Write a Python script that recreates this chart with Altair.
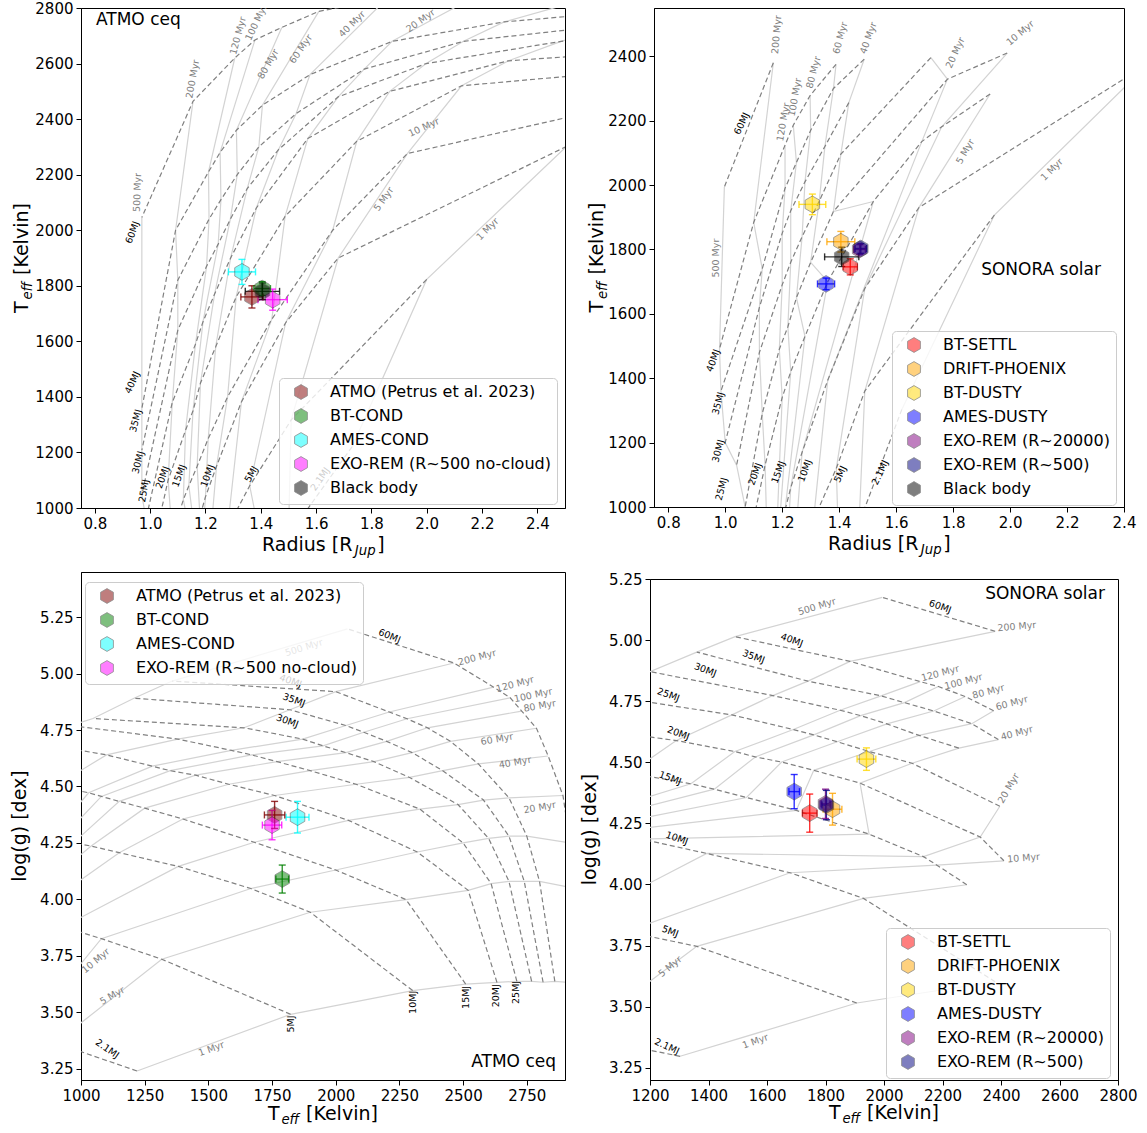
import altair as alt
import pandas as pd

# ---------------------------------------------------------------- grid axes
AGES = [1, 5, 10, 20, 40, 60, 80, 100, 120, 200, 500]
MASSES = [2.1, 5, 10, 15, 20, 25, 30, 35, 40, 60]
N = None

# ---------------------------------------------------------------- ATMO ceq grid
ATMO_TEFF = {
    2.1: [1220, 900, 780, 660, 570, 520, 490, 465, 445, 400, 330],
    5: [1823, 1317, 1080, 930, 800, 735, 690, 660, 635, 565, 455],
    10: [2302, 1900, 1667, 1382, 1150, 1040, 970, 920, 880, 780, 620],
    15: [2510, 2276, 2000, 1680, 1400, 1250, 1150, 1080, 1030, 900, 720],
    20: [2633, 2520, 2320, 2050, 1760, 1580, 1450, 1350, 1280, 1100, 840],
    25: [2711, 2610, 2500, 2330, 2080, 1900, 1770, 1670, 1590, 1380, 960],
    30: [2769, 2680, 2600, 2480, 2290, 2150, 2040, 1950, 1870, 1640, 1047],
    35: [2814, 2740, 2680, 2580, 2420, 2300, 2200, 2110, 2040, 1820, 1208],
    40: [2860, 2800, 2750, 2680, 2560, 2450, 2360, 2280, 2210, 2000, 1358],
    60: [2950, 2935, 2920, 2892, 2834, 2788, 2730, 2685, 2620, 2464, 2046],
}
ATMO_RADIUS = {
    2.1: [1.73, 1.50, 1.42, 1.35, 1.28, 1.25, 1.23, 1.21, 1.20, 1.17, 1.12],
    5: [2.00, 1.51, 1.36, 1.28, 1.21, 1.18, 1.16, 1.15, 1.14, 1.12, 1.08],
    10: [2.506, 1.68, 1.49, 1.33, 1.24, 1.20, 1.18, 1.16, 1.15, 1.12, 1.07],
    15: [2.97, 1.93, 1.66, 1.44, 1.28, 1.21, 1.17, 1.14, 1.12, 1.08, 1.03],
    20: [3.40, 2.126, 1.747, 1.488, 1.311, 1.237, 1.182, 1.155, 1.128, 1.065, 1.006],
    25: [3.78, 2.296, 1.866, 1.57, 1.384, 1.291, 1.233, 1.191, 1.164, 1.08, 0.985],
    30: [4.14, 2.486, 1.998, 1.68, 1.464, 1.351, 1.29, 1.246, 1.204, 1.10, 0.97],
    35: [4.49, 2.685, 2.133, 1.774, 1.528, 1.393, 1.315, 1.256, 1.213, 1.10, 0.97],
    40: [4.78, 2.87, 2.28, 1.875, 1.578, 1.406, 1.312, 1.253, 1.211, 1.092, 0.97],
    60: [5.90, 3.64, 2.89, 2.27, 1.856, 1.61, 1.476, 1.379, 1.306, 1.155, 0.97],
}
ATMO_LOGG = {
    2.1: [3.240, 3.364, 3.411, 3.455, 3.502, 3.522, 3.536, 3.550, 3.558, 3.580, 3.618],
    5: [3.491, 3.735, 3.826, 3.879, 3.927, 3.949, 3.964, 3.972, 3.979, 3.995, 4.026],
    10: [3.596, 3.943, 4.048, 4.146, 4.207, 4.236, 4.250, 4.265, 4.273, 4.296, 4.335],
    15: [3.625, 3.999, 4.130, 4.253, 4.356, 4.404, 4.434, 4.456, 4.472, 4.503, 4.544],
    20: [3.632, 4.040, 4.210, 4.350, 4.460, 4.510, 4.550, 4.570, 4.590, 4.640, 4.690],
    25: [3.637, 4.070, 4.250, 4.400, 4.510, 4.570, 4.610, 4.640, 4.660, 4.710, 4.770],
    30: [3.637, 4.080, 4.270, 4.420, 4.540, 4.610, 4.650, 4.680, 4.710, 4.760, 4.801],
    35: [3.633, 4.080, 4.280, 4.440, 4.570, 4.650, 4.700, 4.740, 4.770, 4.840, 4.891],
    40: [3.637, 4.080, 4.280, 4.450, 4.600, 4.700, 4.760, 4.800, 4.830, 4.920, 4.967],
    60: [3.630, 4.050, 4.250, 4.460, 4.635, 4.758, 4.834, 4.893, 4.940, 5.047, 5.198],
}

# ---------------------------------------------------------------- SONORA solar grid
SONORA_TEFF = {
    2.1: [1303, 950, 820, 700, 600, 550, 515, 490, 470, 420, 350],
    5: [1907, 1360, 1120, 960, 830, 760, 715, 680, 650, 580, 470],
    10: [2380, 1930, 1679, 1394, 1170, 1060, 990, 940, 900, 800, 640],
    15: [N, 2283, 2181, 2135, 1949, 1700, 1530, 1420, 1340, 1130, 880],
    20: [N, N, 2410, 2329, 1918, 1760, 1650, 1560, 1490, 1290, 1000],
    25: [N, N, N, 2396, 2096, 1950, 1840, 1760, 1690, 1480, 1130],
    30: [N, N, N, N, 2256, 2120, 2010, 1920, 1850, 1620, 1200],
    35: [N, N, N, N, 2391, 2300, 2170, 2070, 1990, 1740, 1360],
    40: [N, N, N, N, N, 2375, 2278, 2186, 2124, 1884, 1491],
    60: [N, N, N, N, N, N, N, N, N, 2380, 1994],
}
SONORA_RADIUS = {
    2.1: [1.62, 1.47, 1.40, 1.34, 1.28, 1.25, 1.23, 1.22, 1.21, 1.18, 1.13],
    5: [1.945, 1.49, 1.39, 1.31, 1.24, 1.21, 1.19, 1.17, 1.16, 1.13, 1.09],
    10: [2.49, 1.68, 1.49, 1.36, 1.27, 1.23, 1.21, 1.19, 1.18, 1.15, 1.10],
    15: [N, 1.93, 1.76, 1.69, 1.52, 1.36, 1.28, 1.23, 1.20, 1.14, 1.08],
    20: [N, N, 1.99, 1.78, 1.38, 1.30, 1.25, 1.22, 1.19, 1.13, 1.07],
    25: [N, N, N, 1.722, 1.406, 1.33, 1.27, 1.23, 1.20, 1.12, 1.04],
    30: [N, N, N, N, 1.434, 1.35, 1.28, 1.23, 1.20, 1.12, 1.00],
    35: [N, N, N, N, 1.488, 1.38, 1.30, 1.25, 1.21, 1.13, 0.985],
    40: [N, N, N, N, N, 1.389, 1.298, 1.239, 1.21, 1.10, 0.98],
    60: [N, N, N, N, N, N, N, N, N, 1.169, 0.997],
}
SONORA_LOGG = {
    2.1: [3.297, 3.381, 3.424, 3.462, 3.502, 3.522, 3.536, 3.543, 3.550, 3.572, 3.610],
    5: [3.515, 3.747, 3.807, 3.858, 3.906, 3.927, 3.942, 3.957, 3.964, 3.987, 4.018],
    10: [3.602, 3.943, 4.048, 4.127, 4.186, 4.214, 4.228, 4.243, 4.250, 4.273, 4.311],
    15: [N, 3.999, 4.079, 4.114, 4.206, 4.303, 4.356, 4.390, 4.412, 4.456, 4.503],
    20: [N, N, 4.097, 4.194, 4.415, 4.467, 4.501, 4.522, 4.544, 4.589, 4.636],
    25: [N, N, N, 4.320, 4.496, 4.544, 4.584, 4.612, 4.634, 4.694, 4.758],
    30: [N, N, N, N, 4.558, 4.610, 4.657, 4.691, 4.713, 4.773, 4.871],
    35: [N, N, N, N, 4.593, 4.658, 4.710, 4.744, 4.772, 4.832, 4.951],
    40: [N, N, N, N, N, 4.711, 4.769, 4.810, 4.830, 4.913, 5.014],
    60: [N, N, N, N, N, N, N, N, N, 5.036, 5.175],
}

# ---------------------------------------------------------------- track labels (text, x, y, angle)
ATMO_RT_AGE_LABELS = [
    ("500 Myr", 0.954, 2136, 272), ("200 Myr", 1.154, 2544, 280), ("120 Myr", 1.318, 2700, 285),
    ("100 Myr", 1.384, 2748, 295), ("80 Myr", 1.427, 2598, 300), ("60 Myr", 1.545, 2652, 305),
    ("40 Myr", 1.73, 2742, 315), ("20 Myr", 1.978, 2754, 325), ("10 Myr", 1.99, 2370, 335),
    ("5 Myr", 1.845, 2112, 305), ("1 Myr", 2.22, 2004, 315),
]
ATMO_RT_MASS_LABELS = [
    ("60MJ", 0.936, 1992, 290), ("40MJ", 0.936, 1452, 295), ("35MJ", 0.948, 1314, 285),
    ("30MJ", 0.957, 1164, 285), ("25MJ", 0.978, 1062, 280), ("20MJ", 1.045, 1110, 290),
    ("15MJ", 1.105, 1116, 290), ("10MJ", 1.208, 1116, 290), ("5MJ", 1.366, 1122, 300),
    ("2.1MJ", 1.615, 1104, 305),
]
SONORA_RT_AGE_LABELS = [
    ("500 Myr", 0.969, 1773, 270), ("200 Myr", 1.181, 2467, 275), ("120 Myr", 1.204, 2196, 280),
    ("100 Myr", 1.245, 2273, 280), ("80 Myr", 1.31, 2350, 285), ("60 Myr", 1.404, 2457, 285),
    ("40 Myr", 1.503, 2457, 290), ("20 Myr", 1.808, 2411, 295), ("10 Myr", 2.036, 2472, 320),
    ("5 Myr", 1.843, 2104, 300), ("1 Myr", 2.147, 2048, 315),
]
SONORA_RT_MASS_LABELS = [
    ("60MJ", 1.058, 2191, 295), ("40MJ", 0.958, 1455, 290), ("35MJ", 0.976, 1322, 285),
    ("30MJ", 0.976, 1174, 285), ("25MJ", 0.987, 1056, 285), ("20MJ", 1.105, 1102, 290),
    ("15MJ", 1.187, 1108, 290), ("10MJ", 1.28, 1113, 290), ("5MJ", 1.404, 1102, 295),
    ("2.1MJ", 1.544, 1107, 295),
]
ATMO_TG_AGE_LABELS = [
    ("500 Myr", 1875, 5.115, 343), ("200 Myr", 2555, 5.071, 345), ("120 Myr", 2704, 4.953, 345),
    ("100 Myr", 2775, 4.904, 348), ("80 Myr", 2801, 4.857, 350), ("60 Myr", 2633, 4.709, 350),
    ("40 Myr", 2704, 4.606, 350), ("20 Myr", 2801, 4.407, 350), ("10 Myr", 1058, 3.728, 320),
    ("5 Myr", 1123, 3.573, 330), ("1 Myr", 1512, 3.338, 340),
]
ATMO_TG_MASS_LABELS = [
    ("60MJ", 2211, 5.166, 22), ("40MJ", 1823, 4.967, 20), ("35MJ", 1836, 4.883, 20),
    ("30MJ", 1810, 4.79, 20), ("2.1MJ", 1103, 3.338, 35), ("5MJ", 1823, 3.448, 270),
    ("10MJ", 2302, 3.544, 270), ("15MJ", 2510, 3.566, 270), ("20MJ", 2629, 3.573, 270),
    ("25MJ", 2707, 3.588, 270),
]
SONORA_TG_AGE_LABELS = [
    ("500 Myr", 1771, 5.137, 343), ("200 Myr", 2454, 5.055, 355), ("120 Myr", 2192, 4.864, 345),
    ("100 Myr", 2272, 4.83, 345), ("80 Myr", 2357, 4.789, 345), ("60 Myr", 2437, 4.742, 345),
    ("40 Myr", 2454, 4.619, 345), ("20 Myr", 2426, 4.394, 300), ("10 Myr", 2477, 4.108, 355),
    ("5 Myr", 1269, 3.664, 320), ("1 Myr", 1560, 3.358, 340),
]
SONORA_TG_MASS_LABELS = [
    ("60MJ", 2192, 5.137, 20), ("40MJ", 1685, 5.0, 20), ("35MJ", 1554, 4.932, 20),
    ("30MJ", 1389, 4.878, 20), ("25MJ", 1263, 4.776, 20), ("20MJ", 1297, 4.619, 20),
    ("15MJ", 1269, 4.435, 20), ("10MJ", 1292, 4.189, 20), ("5MJ", 1269, 3.808, 20),
    ("2.1MJ", 1258, 3.337, 25),
]

# ---------------------------------------------------------------- fitted atmospheric parameters
ATMO_MODELS = ["ATMO (Petrus et al. 2023)", "BT-COND", "AMES-COND", "EXO-REM (R~500 no-cloud)", "Black body"]
ATMO_COLORS = ["#800000", "#008000", "#00ffff", "#ff00ff", "#000000"]
ATMO_OBS_TEFF = [1760, 1790, 1850, 1750, 1780]
ATMO_OBS_TEFF_ERR = [40, 25, 45, 38, 30]
ATMO_OBS_RADIUS = [1.368, 1.405, 1.332, 1.443, 1.406]
ATMO_OBS_RADIUS_ERR = [0.040, 0.030, 0.049, 0.053, 0.062]
ATMO_OBS_LOGG = [4.374, 4.090, 4.364, 4.329, N]
ATMO_OBS_LOGG_ERR = [0.060, 0.062, 0.070, 0.065, N]

SONORA_MODELS = ["BT-SETTL", "DRIFT-PHOENIX", "BT-DUSTY", "AMES-DUSTY", "EXO-REM (R~20000)", "EXO-REM (R~500)", "Black body"]
SONORA_COLORS = ["#ff0000", "#ffa500", "#ffd700", "#0000ff", "#800080", "#000080", "#000000"]
SONORA_OBS_TEFF = [1746, 1824, 1940, 1693, 1800, 1803, 1777]
SONORA_OBS_TEFF_ERR = [25, 32, 32, 18, 15, 15, 30]
SONORA_OBS_RADIUS = [1.439, 1.406, 1.306, 1.354, 1.472, 1.476, 1.409]
SONORA_OBS_RADIUS_ERR = [0.025, 0.049, 0.047, 0.030, 0.020, 0.020, 0.060]
SONORA_OBS_LOGG = [4.292, 4.308, 4.513, 4.380, 4.330, 4.325, N]
SONORA_OBS_LOGG_ERR = [0.078, 0.065, 0.046, 0.070, 0.060, 0.060, N]

# ---------------------------------------------------------------- helpers
HEX = "M0,-1L0.866,-0.5L0.866,0.5L0,1L-0.866,0.5L-0.866,-0.5Z"
FONT = "DejaVu Sans"
ONE = pd.DataFrame({"k": [0]})


def grid_table(xg, yg):
    rows = []
    for mi, m in enumerate(MASSES):
        for ai, a in enumerate(AGES):
            xv, yv = xg[m][ai], yg[m][ai]
            if xv is None or yv is None:
                continue
            rows.append({"mass": str(m), "age": str(a), "mi": mi, "ai": ai, "x": xv, "y": yv})
    return pd.DataFrame(rows)


def label_table(items):
    return pd.DataFrame(items, columns=["text", "x", "y", "angle"])


def obs_table(models, colors, xs, xe, ys, ye):
    rows = []
    for name, c, xv, xerr, yv, yerr in zip(models, colors, xs, xe, ys, ye):
        if xv is None or yv is None:
            continue
        rows.append({"model": name, "ecolor": c, "x": xv, "y": yv,
                     "xlo": xv - xerr, "xhi": xv + xerr, "ylo": yv - yerr, "yhi": yv + yerr})
    return pd.DataFrame(rows)


def txt(s, x, y, size, angle=0, italic=False, align="left", baseline="alphabetic"):
    kw = dict(text=s, fontSize=size, font=FONT, align=align, baseline=baseline, color="black")
    if angle:
        kw["angle"] = angle
    if italic:
        kw["fontStyle"] = "italic"
    return alt.Chart(ONE).mark_text(**kw).encode(x=alt.value(x), y=alt.value(y))


def radius_xtitle(W, H, dy):
    x0 = W / 2 - 61
    return [txt("Radius [R", x0, H + dy, 19), txt("Jup", x0 + 92.8, H + dy + 4, 13.3, italic=True),
            txt("]", x0 + 115.2, H + dy, 19)]


def teff_xtitle(W, H, dy):
    x0 = W / 2 - 55
    return [txt("T", x0, H + dy, 19), txt("eff", x0 + 13.4, H + dy + 4, 13.3, italic=True),
            txt("[Kelvin]", x0 + 38.0, H + dy, 19)]


def teff_ytitle(H, tx):
    y0 = H / 2 + 55
    return [txt("T", tx, y0, 19, angle=270), txt("eff", tx + 4, y0 - 13.4, 13.3, angle=270, italic=True),
            txt("[Kelvin]", tx, y0 - 38.0, 19, angle=270)]


def logg_ytitle(H, tx):
    return [txt("log(g) [dex]", tx, H / 2, 19, angle=270, align="center")]


def panel(grid, age_lbls, mass_lbls, obs, models, colors, xdom, ydom, W, H,
          xticks, yticks, xfmt, yfmt, yext, legend_xy, extra):
    xs = alt.Scale(domain=xdom, nice=False, zero=False)
    ys = alt.Scale(domain=ydom, nice=False, zero=False)
    xax = alt.Axis(values=xticks, format=xfmt, title=None, grid=False, labelFlush=False,
                   labelOverlap=False, minExtent=50, maxExtent=50, tickSize=5, labelPadding=3)
    yax = alt.Axis(values=yticks, format=yfmt, title=None, grid=False, labelOverlap=False,
                   minExtent=yext, maxExtent=yext, tickSize=5, labelPadding=3)

    def X(f):
        return alt.X(f, type="quantitative", scale=xs, axis=xax)

    def Y(f):
        return alt.Y(f, type="quantitative", scale=ys, axis=yax)

    iso = alt.Chart(grid).mark_line(color="#d3d3d3", strokeWidth=1.2, clip=True).encode(
        x=X("x"), y=Y("y"), detail="age:N", order="mi:Q")
    trk = alt.Chart(grid).mark_line(color="#808080", strokeWidth=1.2, strokeDash=[5, 3], clip=True).encode(
        x=X("x"), y=Y("y"), detail="mass:N", order="ai:Q")
    agel = alt.Chart(label_table(age_lbls)).mark_text(color="#808080", fontSize=9.5, font=FONT, clip=True).encode(
        x=X("x"), y=Y("y"), text="text:N", angle=alt.Angle("angle:Q", scale=None))
    massl = alt.Chart(label_table(mass_lbls)).mark_text(color="black", fontSize=9.5, font=FONT, clip=True).encode(
        x=X("x"), y=Y("y"), text="text:N", angle=alt.Angle("angle:Q", scale=None))

    ec = alt.Color("ecolor:N", scale=None, legend=None)
    base = alt.Chart(obs)
    xbar = base.mark_rule(strokeWidth=1.4, opacity=0.8).encode(x=X("xlo"), x2="xhi:Q", y=Y("y"), color=ec)
    ybar = base.mark_rule(strokeWidth=1.4, opacity=0.8).encode(x=X("x"), y=Y("ylo"), y2="yhi:Q", color=ec)
    cap1 = base.mark_tick(orient="horizontal", size=7, thickness=1.4, opacity=0.8).encode(x=X("x"), y=Y("ylo"), color=ec)
    cap2 = base.mark_tick(orient="horizontal", size=7, thickness=1.4, opacity=0.8).encode(x=X("x"), y=Y("yhi"), color=ec)
    cap3 = base.mark_tick(orient="vertical", size=7, thickness=1.4, opacity=0.8).encode(x=X("xlo"), y=Y("y"), color=ec)
    cap4 = base.mark_tick(orient="vertical", size=7, thickness=1.4, opacity=0.8).encode(x=X("xhi"), y=Y("y"), color=ec)

    legend = alt.Legend(title=None, orient="none", legendX=legend_xy[0], legendY=legend_xy[1],
                        fillColor="rgba(255,255,255,0.8)", strokeColor="#cccccc", cornerRadius=4,
                        padding=6, labelFont=FONT, labelFontSize=16, labelColor="black",
                        symbolType=HEX, symbolSize=220, symbolStrokeColor="#202020",
                        symbolStrokeWidth=0.8, rowPadding=4, labelOffset=21, symbolOffset=8,
                        labelLimit=500, zindex=1)
    pts = base.mark_point(shape=HEX, filled=True, size=280, opacity=0.5, stroke="#202020",
                          strokeWidth=0.8).encode(
        x=X("x"), y=Y("y"),
        fill=alt.Fill("model:N", scale=alt.Scale(domain=models, range=colors), legend=legend))

    layers = [iso, trk, agel, massl, xbar, ybar, cap1, cap2, cap3, cap4, pts] + extra
    return alt.layer(*layers).properties(width=W, height=H)


# ---------------------------------------------------------------- panels
WA, HA = 484, 500
WB, HB = 470, 499
WC, HC = 484, 508
WD, HD = 468, 501

panel_a = panel(
    grid_table(ATMO_RADIUS, ATMO_TEFF), ATMO_RT_AGE_LABELS, ATMO_RT_MASS_LABELS,
    obs_table(ATMO_MODELS, ATMO_COLORS, ATMO_OBS_RADIUS, ATMO_OBS_RADIUS_ERR, ATMO_OBS_TEFF, ATMO_OBS_TEFF_ERR),
    ATMO_MODELS, ATMO_COLORS, [0.75, 2.5], [1000, 2800], WA, HA,
    [0.8, 1.0, 1.2, 1.4, 1.6, 1.8, 2.0, 2.2, 2.4], list(range(1000, 2801, 200)), ".1f", "d", 77,
    (198, 370),
    [txt("ATMO ceq", 15, 12, 17, baseline="middle")] + radius_xtitle(WA, HA, 43) + teff_ytitle(HA, -53))

panel_b = panel(
    grid_table(SONORA_RADIUS, SONORA_TEFF), SONORA_RT_AGE_LABELS, SONORA_RT_MASS_LABELS,
    obs_table(SONORA_MODELS, SONORA_COLORS, SONORA_OBS_RADIUS, SONORA_OBS_RADIUS_ERR, SONORA_OBS_TEFF, SONORA_OBS_TEFF_ERR),
    SONORA_MODELS, SONORA_COLORS, [0.75, 2.4], [1000, 2550], WB, HB,
    [0.8, 1.0, 1.2, 1.4, 1.6, 1.8, 2.0, 2.2, 2.4], list(range(1000, 2401, 200)), ".1f", "d", 77,
    (238, 323),
    [txt("SONORA solar", 447, 262, 17, align="right", baseline="middle")] + radius_xtitle(WB, HB, 43) + teff_ytitle(HB, -51))

panel_c = panel(
    grid_table(ATMO_TEFF, ATMO_LOGG), ATMO_TG_AGE_LABELS, ATMO_TG_MASS_LABELS,
    obs_table(ATMO_MODELS, ATMO_COLORS, ATMO_OBS_TEFF, ATMO_OBS_TEFF_ERR, ATMO_OBS_LOGG, ATMO_OBS_LOGG_ERR),
    ATMO_MODELS[:4], ATMO_COLORS[:4], [1000, 2900], [3.2, 5.45], WC, HC,
    list(range(1000, 2751, 250)), [3.25, 3.5, 3.75, 4.0, 4.25, 4.5, 4.75, 5.0, 5.25], "d", ".2f", 72,
    (4, 10),
    [txt("ATMO ceq", 475, 490, 17, align="right", baseline="middle")] + teff_xtitle(WC, HC, 40) + logg_ytitle(HC, -55))

panel_d = panel(
    grid_table(SONORA_TEFF, SONORA_LOGG), SONORA_TG_AGE_LABELS, SONORA_TG_MASS_LABELS,
    obs_table(SONORA_MODELS, SONORA_COLORS, SONORA_OBS_TEFF, SONORA_OBS_TEFF_ERR, SONORA_OBS_LOGG, SONORA_OBS_LOGG_ERR),
    SONORA_MODELS[:6], SONORA_COLORS[:6], [1200, 2800], [3.2, 5.25], WD, HD,
    list(range(1200, 2801, 200)), [3.25, 3.5, 3.75, 4.0, 4.25, 4.5, 4.75, 5.0, 5.25], "d", ".2f", 73,
    (236, 349),
    [txt("SONORA solar", 455, 15, 17, align="right", baseline="middle")] + teff_xtitle(WD, HD, 39) + logg_ytitle(HD, -54))

chart = (
    alt.concat(panel_a, panel_b, panel_c, panel_d, columns=2, align="none",
               spacing={"row": 12, "column": 10})
    .resolve_scale(fill="independent")
    .properties(padding={"left": 3, "top": 0, "right": 5, "bottom": 0}, background="white")
    .configure(font=FONT)
    .configure_view(stroke="black", strokeWidth=1)
    .configure_axis(domainColor="black", tickColor="black", labelColor="black", labelFont=FONT,
                    labelFontSize=15, domainWidth=1, tickWidth=1)
)

chart.save("out.html", embed_options={"renderer": "svg", "actions": False})
